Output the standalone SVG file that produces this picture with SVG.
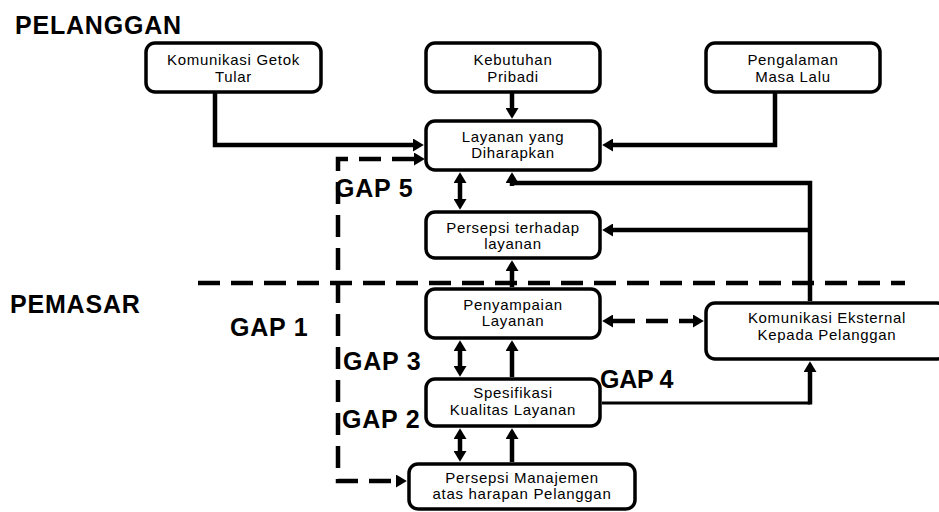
<svg xmlns="http://www.w3.org/2000/svg" width="939" height="512" viewBox="0 0 939 512">
<style>
  .box { fill: #ffffff; stroke: #000000; stroke-width: 3.5; }
  .t { font-family: "Liberation Sans", Arial, sans-serif; font-size: 15px; letter-spacing: 0.7px; text-anchor: middle; fill: #000; }
  .h { font-family: "Liberation Sans", Arial, sans-serif; font-size: 25px; font-weight: bold; letter-spacing: 0.8px; fill: #000; }
  .c { fill: none; stroke: #000; stroke-width: 4.5; }
  .d { fill: none; stroke: #000; stroke-width: 4.5; stroke-dasharray: 22 11; }
</style>
<defs>
  <marker id="ah" viewBox="0 0 10 12" refX="0" refY="6" markerWidth="11" markerHeight="13" markerUnits="userSpaceOnUse" orient="auto-start-reverse">
    <path d="M0,0 L10,6 L0,12 Z" fill="#000"/>
  </marker>
</defs>
<rect width="939" height="512" fill="#ffffff"/>

<g id="labels">
  <text class="h" x="15" y="34">PELANGGAN</text>
  <text class="h" x="10" y="313">PEMASAR</text>
  <text class="h" x="335" y="197">GAP 5</text>
  <text class="h" x="230" y="336">GAP 1</text>
  <text class="h" x="343" y="370">GAP 3</text>
  <text class="h" x="342" y="428">GAP 2</text>
  <text class="h" x="600" y="388" style="letter-spacing:-0.3px">GAP 4</text>
</g>

<g id="connectors">
  <path class="d" d="M198,283 H905"/>
  <path class="c" d="M215,92 V145 H413" marker-end="url(#ah)"/>
  <path class="c" d="M512,92 V108" marker-end="url(#ah)"/>
  <path class="c" d="M775,92 V145 H613" marker-end="url(#ah)"/>
  <path class="c" d="M810,301 V183 H512"/>
  <path class="c" d="M512,186 V183" marker-end="url(#ah)"/>
  <path class="c" d="M810,230 H613" marker-end="url(#ah)"/>
  <path class="c" d="M460,183 V199" marker-start="url(#ah)" marker-end="url(#ah)"/>
  <path class="c" d="M512,287 V271" marker-end="url(#ah)"/>
  <path class="d" d="M613,321 H693" marker-start="url(#ah)" marker-end="url(#ah)"/>
  <path class="c" d="M460,351 V366" marker-start="url(#ah)" marker-end="url(#ah)"/>
  <path class="c" d="M512,377 V351" marker-end="url(#ah)"/>
  <path class="c" d="M460,439 V451" marker-start="url(#ah)" marker-end="url(#ah)"/>
  <path class="c" d="M512,462 V439" marker-end="url(#ah)"/>
  <path class="c" style="stroke-width:3" d="M602,403 H810"/>
  <path class="c" d="M810,404.5 V372" marker-end="url(#ah)"/>
  <path class="d" d="M414,159 H338 V481 H396" marker-start="url(#ah)" marker-end="url(#ah)"/>
</g>

<g id="n1">
  <rect class="box" x="146" y="43" width="175" height="49" rx="9"/>
  <text class="t" x="233.5" y="65">Komunikasi Getok</text>
  <text class="t" x="233.5" y="82">Tular</text>
</g>
<g id="n2">
  <rect class="box" x="426" y="43" width="174" height="49" rx="9"/>
  <text class="t" x="513" y="65">Kebutuhan</text>
  <text class="t" x="513" y="82">Pribadi</text>
</g>
<g id="n3">
  <rect class="box" x="706" y="43" width="174" height="49" rx="9"/>
  <text class="t" x="793" y="65">Pengalaman</text>
  <text class="t" x="793" y="82">Masa Lalu</text>
</g>
<g id="n4">
  <rect class="box" x="426" y="121" width="174" height="49" rx="9"/>
  <text class="t" x="513" y="142">Layanan yang</text>
  <text class="t" x="513" y="158">Diharapkan</text>
</g>
<g id="n5">
  <rect class="box" x="426" y="212" width="174" height="46" rx="9"/>
  <text class="t" x="513" y="233">Persepsi terhadap</text>
  <text class="t" x="513" y="249">layanan</text>
</g>
<g id="n6">
  <rect class="box" x="426" y="289" width="174" height="49" rx="9"/>
  <text class="t" x="513" y="310">Penyampaian</text>
  <text class="t" x="513" y="326">Layanan</text>
</g>
<g id="n7">
  <rect class="box" x="426" y="379" width="174" height="47" rx="9"/>
  <text class="t" x="513" y="398">Spesifikasi</text>
  <text class="t" x="513" y="415">Kualitas Layanan</text>
</g>
<g id="n8">
  <rect class="box" x="409" y="464" width="226" height="45" rx="9"/>
  <text class="t" x="522" y="483">Persepsi Manajemen</text>
  <text class="t" x="522" y="499">atas harapan Pelanggan</text>
</g>
<g id="n9">
  <rect class="box" x="706" y="303" width="240" height="56" rx="9"/>
  <text class="t" x="827" y="323">Komunikasi Eksternal</text>
  <text class="t" x="827" y="340">Kepada Pelanggan</text>
</g>
</svg>
